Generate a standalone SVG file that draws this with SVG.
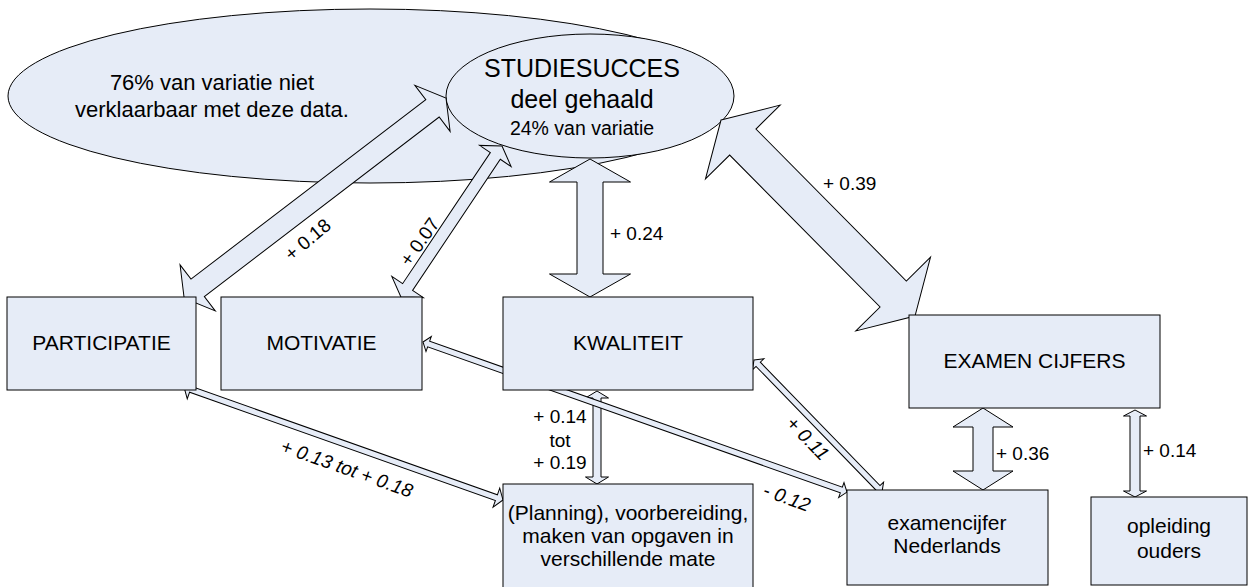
<svg xmlns="http://www.w3.org/2000/svg" width="1251" height="587" viewBox="0 0 1251 587">
<style>
.shape{fill:#E6ECF7;stroke:#000;stroke-width:1}
.t{font-family:"Liberation Sans",Arial,sans-serif;fill:#000}
.box{font-size:21px;text-anchor:middle}
.lbl{font-size:19px}
.it{font-style:italic}
.mid{text-anchor:middle}
</style>
<g id="ellipses">
<g id="unexplained">
<ellipse class="shape" cx="370" cy="96" rx="362" ry="87"/>
<text class="t mid" x="212" y="90" font-size="22">76% van variatie niet</text>
<text class="t mid" x="212" y="117" font-size="22">verklaarbaar met deze data.</text>
</g>
<g id="studiesucces">
<ellipse class="shape" cx="590" cy="96" rx="144" ry="62"/>
<text class="t mid" x="582" y="77" font-size="25">STUDIESUCCES</text>
<text class="t mid" x="582" y="108" font-size="25">deel gehaald</text>
<text class="t mid" x="582" y="135" font-size="19.5">24% van variatie</text>
</g>
</g>
<g id="connectors">
<polygon class="shape" transform="translate(446,98) rotate(142.6)" points="0,0 17,-29 17,-11 312.6,-11 312.6,-29 329.6,0 312.6,29 312.6,11 17,11 17,29"/>
<polygon class="shape" transform="translate(502,146) rotate(123.8)" points="0,0 12,-19 12,-6 169.7,-6 169.7,-19 181.7,0 169.7,19 169.7,6 12,6 12,19"/>
<polygon class="shape" transform="translate(590,159) rotate(90)" points="0,0 23,-40.5 23,-13 115,-13 115,-40.5 138,0 115,40.5 115,13 23,13 23,40.5"/>
<polygon class="shape" transform="translate(721,120) rotate(45.3)" points="0,0 31,-52.5 31,-18.5 244.8,-18.5 244.8,-52.5 275.8,0 244.8,52.5 244.8,18.5 31,18.5 31,52.5"/>
<polygon class="shape" transform="translate(184,387) rotate(19.5)" points="0,0 7,-10 7,-3 331.4,-3 331.4,-10 338.4,0 331.4,10 331.4,3 7,3 7,10"/>
<polygon class="shape" transform="translate(597,391) rotate(90)" points="0,0 7,-11.5 7,-4 86,-4 86,-11.5 93,0 86,11.5 86,4 7,4 7,11.5"/>
<polygon class="shape" transform="translate(423,342) rotate(19.49)" points="0,0 6,-8 6,-3 443.75,-3 443.75,-8 449.75,0 443.75,8 443.75,3 6,3 6,8"/>
<polygon class="shape" transform="translate(754,360) rotate(45.88)" points="0,0 6,-8 6,-3 177.9,-3 177.9,-8 183.9,0 177.9,8 177.9,3 6,3 6,8"/>
<polygon class="shape" transform="translate(983,408) rotate(90)" points="0,0 19,-30 19,-10 63,-10 63,-30 82,0 63,30 63,10 19,10 19,30"/>
<polygon class="shape" transform="translate(1135,410) rotate(90)" points="0,0 6,-11.5 6,-5 81,-5 81,-11.5 87,0 81,11.5 81,5 6,5 6,11.5"/>
<text class="t lbl mid" transform="translate(308,240) rotate(-40)" y="6">+ 0.18</text>
<text class="t lbl mid" transform="translate(420,242) rotate(-55)" y="6">+ 0.07</text>
<text class="t lbl" x="610" y="240">+ 0.24</text>
<text class="t lbl" x="823" y="190">+ 0.39</text>
<text class="t lbl it mid" transform="translate(347,468) rotate(19.5)" y="7">+ 0.13 tot + 0.18</text>
<text class="t lbl mid" x="560" y="423">+ 0.14</text>
<text class="t lbl mid" x="560" y="447">tot</text>
<text class="t lbl mid" x="560" y="469">+ 0.19</text>
<text class="t lbl it mid" transform="translate(808,438) rotate(46)" y="7">+ 0.11</text>
<text class="t lbl it mid" transform="translate(787,497) rotate(20)" y="7">- 0.12</text>
<text class="t lbl" x="996" y="460">+ 0.36</text>
<text class="t lbl" x="1143" y="457">+ 0.14</text>
</g>
<g id="participatie">
<rect class="shape" x="7" y="297" width="189" height="93"/>
<text class="t box" x="101.5" y="350">PARTICIPATIE</text>
</g>
<g id="motivatie">
<rect class="shape" x="221" y="297" width="201" height="93"/>
<text class="t box" x="321.5" y="350">MOTIVATIE</text>
</g>
<g id="kwaliteit">
<rect class="shape" x="503" y="297" width="250" height="93"/>
<text class="t box" x="628" y="350">KWALITEIT</text>
</g>
<g id="examen-cijfers">
<rect class="shape" x="909" y="315" width="251" height="93"/>
<text class="t box" x="1034.5" y="368">EXAMEN CIJFERS</text>
</g>
<g id="planning">
<rect class="shape" x="503" y="484" width="250" height="120"/>
<text class="t box" x="628" y="520" font-size="20">(Planning), voorbereiding,</text>
<text class="t box" x="628" y="543" font-size="20">maken van opgaven in</text>
<text class="t box" x="628" y="566" font-size="20">verschillende mate</text>
</g>
<g id="examencijfer-nederlands">
<rect class="shape" x="847" y="490" width="201" height="95"/>
<text class="t box" x="947" y="530">examencijfer</text>
<text class="t box" x="947" y="553">Nederlands</text>
</g>
<g id="opleiding-ouders">
<rect class="shape" x="1091" y="497" width="156" height="88"/>
<text class="t box" x="1169" y="533">opleiding</text>
<text class="t box" x="1169" y="558">ouders</text>
</g>
</svg>
